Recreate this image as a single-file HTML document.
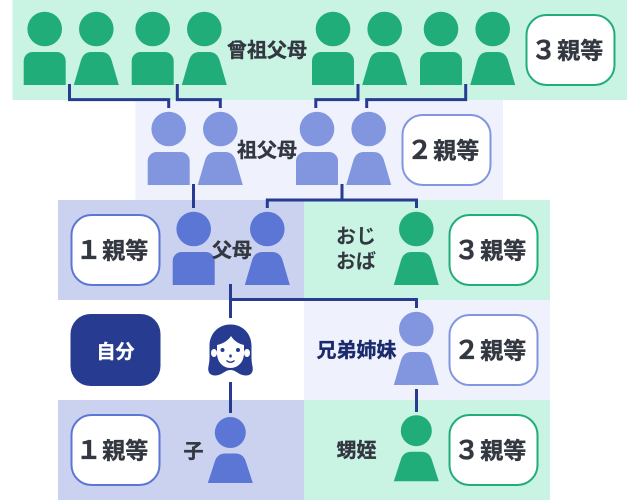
<!DOCTYPE html>
<html lang="ja"><head><meta charset="utf-8"><style>
html,body{margin:0;padding:0;background:#fff}
svg{display:block}
text{font-family:"Liberation Sans","Noto Sans CJK JP",sans-serif;font-weight:700;fill:#333740;text-anchor:middle;stroke:#333740;stroke-width:.35px}
.d{font-size:25.500px}
</style></head><body>
<svg width="640" height="500" viewBox="0 0 640 500" xmlns="http://www.w3.org/2000/svg">
<defs>
<g id="m"><circle cx="0" cy="-23" r="17.3"/><path d="M-21 33V9a9 9 0 0 1 9-9H12a9 9 0 0 1 9 9V33Z"/></g>
<g id="f"><circle cx="0" cy="-23" r="17.3"/><path d="M-22.500 33L-15.500 9Q-13 0-5 0H5Q13 0 15.500 9L22.500 33Z"/></g>
<g id="s"><circle cx="0" cy="-21" r="15.500"/><path d="M-22.500 29.500L-15.500 8Q-13 0-5 0H5Q13 0 15.500 8L22.500 29.500Z"/></g>
</defs>
<rect x="12.500" y="0" width="614.500" height="100" fill="#c9f3e3"/>
<rect x="135.500" y="100" width="367.500" height="100" fill="#eff2fc"/>
<rect x="58" y="200" width="246" height="100" fill="#cad2f0"/>
<rect x="304" y="200" width="246" height="100" fill="#c9f3e3"/>
<rect x="304" y="300" width="246" height="100" fill="#eff2fc"/>
<rect x="58" y="400" width="246" height="100" fill="#cad2f0"/>
<rect x="304" y="400" width="246" height="100" fill="#c9f3e3"/>

<g fill="#21ad79">
<use href="#m" x="44.700" y="52"/><use href="#f" x="96.300" y="52"/><use href="#m" x="152.700" y="52"/><use href="#f" x="204.300" y="52"/>
<use href="#m" x="333" y="52"/><use href="#f" x="384.700" y="52"/><use href="#m" x="441" y="52"/><use href="#f" x="492.700" y="52"/>
<use href="#f" x="416.300" y="252"/><use href="#s" x="416.300" y="451.700"/>
</g>
<g fill="#8296e0">
<use href="#m" x="168.700" y="152"/><use href="#f" x="220.300" y="152"/><use href="#m" x="317" y="152"/><use href="#f" x="368.700" y="152"/>
<use href="#f" x="416.300" y="352"/>
</g>
<g fill="#5c76d5">
<use href="#m" x="193.700" y="252"/><use href="#f" x="267.300" y="252"/><use href="#s" x="230.300" y="453.500"/>
</g>

<g fill="none" stroke="#273c91" stroke-width="3">
<path d="M69.500 84V99.600H168.700V108"/>
<path d="M177.300 84V99.600H220.300V108"/>
<path d="M315.800 108V99.600H358V84"/>
<path d="M366.700 108V99.600H465.700V84"/>
<path d="M193.500 184V208"/>
<path d="M267.300 208V200H416.500V208"/>
<path d="M342 184V200"/>
<path d="M230.500 284V318"/>
<path d="M230.500 299.500H416.500V308"/>
<path d="M230.500 382V413"/>
<path d="M416.500 389V412"/>
</g>

<g fill="#fff" stroke-width="2">
<rect x="526.500" y="15" width="88" height="70" rx="20" stroke="#21ad79"/>
<rect x="402.500" y="115" width="88" height="70" rx="20" stroke="#8296e0"/>
<rect x="71.500" y="215" width="88" height="70" rx="20" stroke="#5c76d5"/>
<rect x="449.500" y="215" width="88" height="70" rx="20" stroke="#21ad79"/>
<rect x="449.500" y="315" width="88" height="70" rx="20" stroke="#8296e0"/>
<rect x="71.500" y="415" width="88" height="70" rx="20" stroke="#5c76d5"/>
<rect x="449.500" y="415" width="88" height="70" rx="20" stroke="#21ad79"/>
</g>
<rect x="70.500" y="314" width="90" height="72" rx="20" fill="#273c91"/>

<!-- woman -->
<path d="M230.500 324.500C218 324.500 209.500 334 209.500 346V358C209.500 364 207.500 368 208.500 371C209.500 375.500 215 376.500 220 374.500C224 373 226 370 230.500 370C235 370 237 373 241 374.500C246 376.500 251.500 375.500 252.500 371C253.500 368 251.500 364 251.500 358V346C251.500 334 243 324.500 230.500 324.500Z" fill="#273c91"/>
<ellipse cx="214" cy="353" rx="3" ry="4" fill="#fff"/><ellipse cx="247" cy="353" rx="3" ry="4" fill="#fff"/>
<path d="M217 345C222 344 228 341 231 336C234 341 239 344 244 345V353C244 362 238 368 230.500 368C223 368 217 362 217 353Z" fill="#fff"/>
<circle cx="222.500" cy="350" r="2" fill="#273c91"/><circle cx="238" cy="350" r="2" fill="#273c91"/>
<ellipse cx="230.500" cy="356" rx="1.300" ry="1.600" fill="#273c91"/>
<path d="M226.500 360.500Q230.500 364 234.500 360.500" fill="none" stroke="#273c91" stroke-width="1.300"/>

<g style="font-size:23px">
<text class="d" x="543.700" y="59">３</text><text x="580.300" y="58.500">親等</text>
<text class="d" x="419.700" y="159">２</text><text x="456.300" y="158.500">親等</text>
<text class="d" x="88.700" y="259">１</text><text x="125.300" y="258.500">親等</text>
<text class="d" x="466.700" y="259">３</text><text x="503.300" y="258.500">親等</text>
<text class="d" x="466.700" y="359">２</text><text x="503.300" y="358.500">親等</text>
<text class="d" x="88.700" y="459">１</text><text x="125.300" y="458.500">親等</text>
<text class="d" x="466.700" y="459">３</text><text x="503.300" y="458.500">親等</text>
</g>
<g style="font-size:20px">
<text x="267" y="57">曾祖父母</text>
<text x="267" y="157">祖父母</text>
<text x="232" y="257">父母</text>
<text x="356" y="243" style="stroke-width:0">おじ</text>
<text x="356" y="268" style="stroke-width:0">おば</text>
<text x="356.500" y="357" style="fill:#1a2a6c;stroke:#1a2a6c">兄弟姉妹</text>
<text x="115.500" y="358" style="font-size:19px;fill:#fff;stroke:#fff">自分</text>
<text x="193.500" y="458">子</text>
<text x="356.500" y="457">甥姪</text>
</g>
</svg>
</body></html>
